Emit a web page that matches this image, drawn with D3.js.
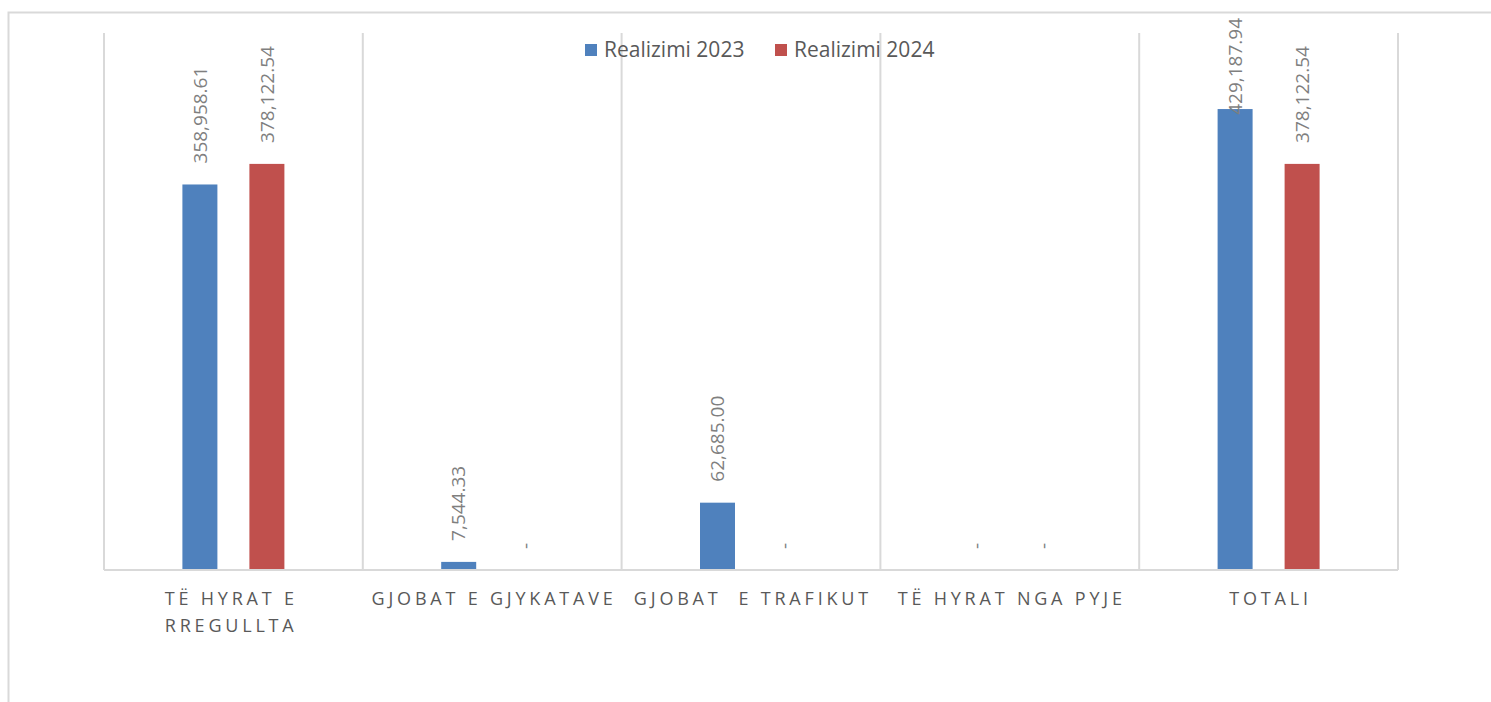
<!DOCTYPE html>
<html>
<head>
<meta charset="utf-8">
<script src="https://cdn.jsdelivr.net/npm/d3@7"></script>
<style>
  body { margin: 0; background: #fff; }
  svg { display: block; }
  text { font-family: "Open Sans", "Noto Sans", sans-serif; }
</style>
</head>
<body>
<svg id="chart"></svg>
<script>
// categories and series
var categories = [
    ["TË HYRAT E", "RREGULLTA"],
    ["GJOBAT E GJYKATAVE"],
    ["GJOBAT  E TRAFIKUT"],
    ["TË HYRAT NGA PYJE"],
    ["TOTALI"]
];
var seriesNames = ["Realizimi 2023", "Realizimi 2024"];
var values2023 = [358958.61, 7544.33, 62685.00, 0, 429187.94];
var values2024 = [378122.54, 0, 0, 0, 378122.54];
var colors = ["#4f81bd", "#c0504d"];

const chartW = 1491,
    chartH = 702,
    plotLeft = 104,
    plotRight = 1398,
    plotTop = 33,
    plotBottom = 570,
    yMax = 500000,
    barW = 35,
    barOff = 33.5,
    gridColor = "#d9d9d9";

var svg = d3.select("#chart").attr("width", chartW).attr("height", chartH);

// outer chart border (top and left only visible)
svg.append("path")
    .attr("d", "M8.5," + chartH + "V12.5H" + chartW)
    .attr("fill", "none")
    .attr("stroke", gridColor)
    .attr("stroke-width", 2);

var xScale = d3.scaleBand()
    .domain(d3.range(categories.length))
    .range([plotLeft, plotRight])
    .padding(0);
var yScale = d3.scaleLinear().domain([0, yMax]).range([plotBottom, plotTop]);

// vertical gridlines at category borders
var borders = d3.range(categories.length + 1).map(function(i) {
    return i < categories.length ? xScale(i) : xScale(i - 1) + xScale.bandwidth();
});
svg.append("g")
    .selectAll("line")
    .data(borders)
    .enter()
    .append("line")
    .attr("x1", function(d) {return d;})
    .attr("x2", function(d) {return d;})
    .attr("y1", plotTop)
    .attr("y2", plotBottom)
    .attr("stroke", gridColor)
    .attr("stroke-width", 2);

// legend
var legend = svg.append("g").attr("transform", "translate(585,50)");
var legendX = [0, 190];
seriesNames.forEach(function(name, i) {
    legend.append("rect")
        .attr("x", legendX[i])
        .attr("y", -6)
        .attr("width", 12)
        .attr("height", 12)
        .attr("fill", colors[i]);
    legend.append("text")
        .attr("x", legendX[i] + 19)
        .attr("y", 0)
        .attr("dy", "0.35em")
        .attr("fill", "#595959")
        .style("font-size", "21px")
        .text(name);
});

// bars
var allSeries = [values2023, values2024];
var fmt = d3.format(",.2f");
allSeries.forEach(function(vals, s) {
    var g = svg.append("g");
    var off = s === 0 ? -barOff : barOff;
    g.selectAll("rect")
        .data(vals)
        .enter()
        .append("rect")
        .attr("x", function(d, i) {return xScale(i) + xScale.bandwidth() / 2 + off - barW / 2;})
        .attr("y", function(d) {return yScale(d);})
        .attr("width", barW)
        .attr("height", function(d) {return plotBottom - yScale(d);})
        .attr("fill", colors[s]);

    // value labels, rotated
    g.selectAll("text")
        .data(vals)
        .enter()
        .append("text")
        .attr("fill", "#7f7f7f")
        .style("font-size", "19px")
        .attr("text-anchor", "start")
        .attr("dy", "0.35em")
        .text(function(d) {return d === 0 ? "-" : fmt(d);})
        .each(function(d, i) {
            var len = this.getComputedTextLength();
            var cx = xScale(i) + xScale.bandwidth() / 2 + off;
            var cy = Math.max(yScale(d) - 21, 18 + len);
            d3.select(this).attr("transform", "translate(" + cx + "," + cy + ") rotate(-90)");
        });
});

// baseline
svg.append("line")
    .attr("x1", plotLeft)
    .attr("x2", plotRight)
    .attr("y1", plotBottom)
    .attr("y2", plotBottom)
    .attr("stroke", gridColor)
    .attr("stroke-width", 2);

// category labels
var catG = svg.append("g");
categories.forEach(function(lines, i) {
    var cx = xScale(i) + xScale.bandwidth() / 2;
    var t = catG.append("text")
        .attr("fill", "#595959")
        .style("font-size", "18px")
        .style("letter-spacing", "3.8px")
        .style("white-space", "pre")
        .attr("text-anchor", "start");
    lines.forEach(function(line, j) {
        t.append("tspan")
            .attr("y", 605 + j * 27)
            .text(line);
    });
    var firstW = t.select("tspan").node().getComputedTextLength() - 3.8;
    var shift = lines.length > 1 ? 4 : 0;
    t.selectAll("tspan").attr("x", cx - firstW / 2 - shift);
});
</script>
</body>
</html>
